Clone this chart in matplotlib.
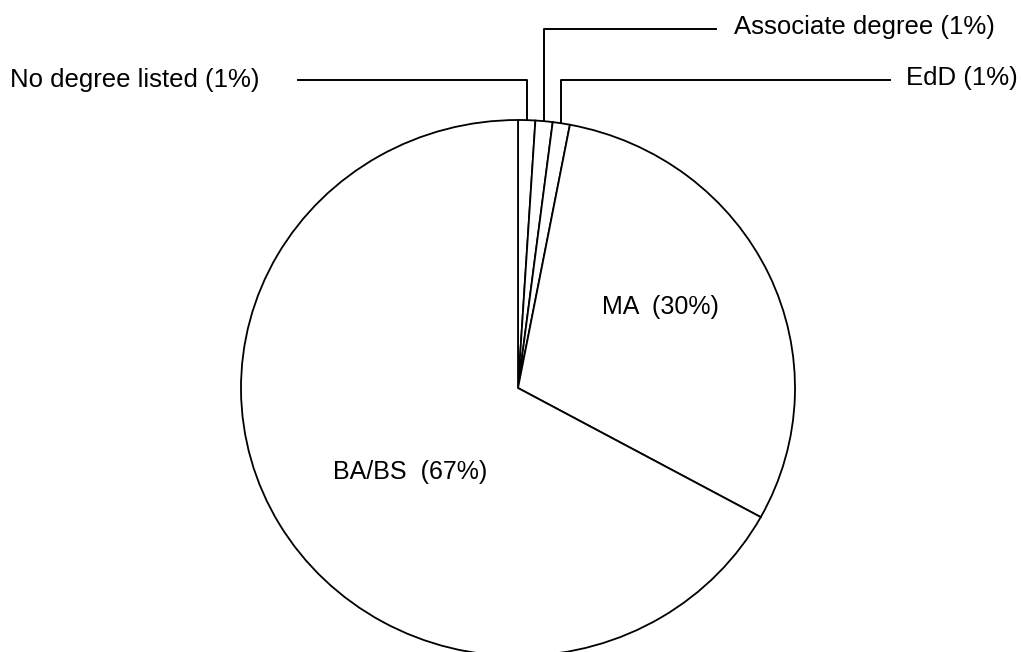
import numpy as np
import matplotlib.pyplot as plt
from matplotlib.transforms import Affine2D

# Highest degree held, share of respondents (clockwise from top)
degrees = ['No degree listed', 'Associate degree', 'EdD', 'MA', 'BA/BS']
shares = [1, 1, 1, 30, 67]

plt.rcParams['font.family'] = ['Liberation Sans', 'DejaVu Sans']

fig = plt.figure(figsize=(10.21, 6.52), dpi=100)
ax = fig.add_axes([0, 0, 1, 1])

# pie is slightly wider than tall
cx, cy = 518, 264
ry = 268
sx = 277 / 268

wedges, _ = ax.pie(shares, startangle=90, counterclock=False,
                   center=(0, 0), radius=ry, frame=True,
                   colors=['white'] * len(shares),
                   wedgeprops=dict(edgecolor='black', linewidth=1.3))
stretch = Affine2D().scale(sx, 1).translate(cx, cy)
for w in wedges:
    w.set_transform(stretch + ax.transData)

ax.set_aspect('auto')
ax.set_xlim(0, 1021)
ax.set_ylim(0, 652)
ax.axis('off')

# big slices labelled inside
ax.text(660, 652 - 307, f'MA  ({shares[3]}%)', fontsize=18,
        ha='center', va='center')
ax.text(410, 652 - 472, f'BA/BS  ({shares[4]}%)', fontsize=18,
        ha='center', va='center')

# small slices get leader lines going up from the rim
leaders = [
    (0, 572, 298, 10, 572),
    (1, 623, 716, 734, 625),
    (2, 572, 890, 906, 574),
]
for i, y_line, x_end, x_text, y_text in leaders:
    w = wedges[i]
    mid = np.deg2rad((w.theta1 + w.theta2) / 2)
    x0 = cx + sx * ry * np.cos(mid)
    y0 = cy + ry * np.sin(mid)
    ax.plot([x0, x0, x_end], [y0, y_line, y_line], color='black', lw=1.4)
    ax.text(x_text, y_text, f'{degrees[i]} ({shares[i]}%)', fontsize=18.5,
            ha='left', va='center')

fig.savefig('out.png', dpi=100)
